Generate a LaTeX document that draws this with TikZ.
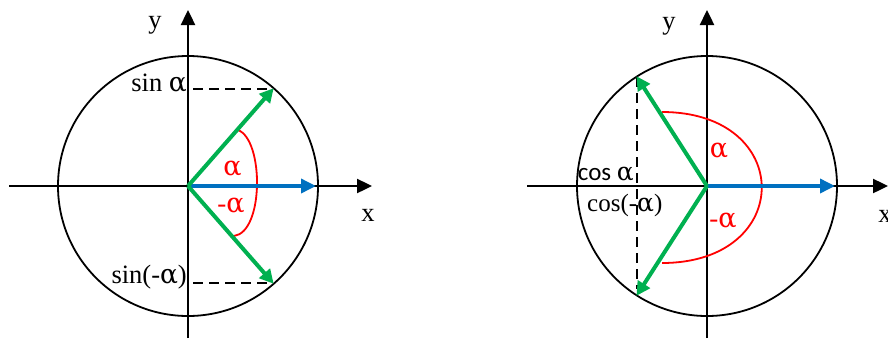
\documentclass[tikz,border=0pt]{standalone}
\usepackage{fontspec}
\setmainfont{Liberation Serif}
\newfontfamily\calib{Carlito}
\newfontfamily\dvs{DejaVu Serif}
\newcommand{\alp}{{\dvs α}}
\usetikzlibrary{arrows.meta}
\definecolor{grn}{HTML}{00B050}
\definecolor{blu}{HTML}{0070C0}
\begin{document}
\begin{tikzpicture}[x=1pt,y=-1pt,
  axisline/.style={line width=2.4pt,-{Triangle[length=15pt,width=14pt]}},
  circ/.style={line width=1.8pt},
  vecg/.style={grn,line width=4pt,-{Triangle[length=14pt,width=14pt]},shorten >=-1pt},
  vecb/.style={blu,line width=3.5pt,-{Triangle[length=15pt,width=14pt]}},
  dashln/.style={line width=1.8pt,dash pattern=on 10pt off 6pt},
  arcred/.style={red,line width=1.8pt},
  lbl/.style={inner sep=0pt,font=\fontsize{26.5}{31}\selectfont},
  slbl/.style={inner sep=0pt,font=\fontsize{25}{30}\selectfont},
  rlbl/.style={inner sep=0pt,text=red,font=\fontsize{27}{32}\selectfont},
  clbl/.style={inner sep=0pt,font=\calib\fontsize{25}{30}\selectfont}]
\useasboundingbox (0,0) rectangle (888,338);
\clip (0,0) rectangle (888,338);
% ---------- left diagram ----------
\coordinate (O1) at (188,186);
\coordinate (xl1) at (9,186);
\coordinate (xr1) at (372,186);
\coordinate (yb1) at (188,338);
\coordinate (yt1) at (188,10);
\coordinate (P1) at (273,89);
\coordinate (Q1) at (273,283);
\coordinate (B1) at (316,186);
\coordinate (d1a) at (193,89);
\coordinate (d1b) at (193,283);
\coordinate (r1s) at (238,130);
\coordinate (r1e) at (234,236);
\draw[circ] (O1) circle[radius=130];
\draw[axisline] (xl1) -- (xr1);
\draw[axisline] (yb1) -- (yt1);
\draw[dashln] (d1a) -- (P1);
\draw[dashln] (d1b) -- (Q1);
\draw[arcred] (r1s) .. controls (264,140) and (264,232) .. (r1e);
\draw[vecb] (O1) -- (B1);
\draw[vecg] (O1) -- (P1);
\draw[vecg] (O1) -- (Q1);
\node[lbl] (ly1) at (155,25) {y};
\node[lbl] (lx1) at (368,215) {x};
\node[lbl,anchor=base east] (s1) at (187,91) {sin \alp};
\node[lbl,anchor=base east] (s2) at (187,283) {sin(-\alp)};
\node[rlbl] (a1) at (232.5,169) {\alp};
\node[rlbl] (a2) at (231,206) {-\alp};
% ---------- right diagram ----------
\coordinate (O2) at (707,186);
\coordinate (xl2) at (527,186);
\coordinate (xr2) at (888,186);
\coordinate (yb2) at (707,338);
\coordinate (yt2) at (707,10);
\coordinate (P2) at (637,77);
\coordinate (Q2) at (637,295);
\coordinate (B2) at (835,186);
\coordinate (d2a) at (637,77);
\coordinate (d2b) at (637,289);
\coordinate (r2s) at (662,112);
\coordinate (r2e) at (662,263);
\draw[circ] (O2) circle[radius=130];
\draw[axisline] (xl2) -- (xr2);
\draw[axisline] (yb2) -- (yt2);
\draw[dashln] (d2a) -- (d2b);
\draw[arcred] (r2s) .. controls (795,112) and (795,263) .. (r2e);
\draw[vecb] (O2) -- (B2);
\draw[vecg] (O2) -- (P2);
\draw[vecg] (O2) -- (Q2);
\node[lbl] (ly2) at (669,26) {y};
\node[lbl] (lx2) at (885,216) {x};
\node[clbl,anchor=base east] (c1) at (634,180) {cos \alp};
\node[slbl,anchor=base west] (c2) at (587,211) {cos(-\alp)};
\node[rlbl] (a3) at (719,151) {\alp};
\node[rlbl] (a4) at (723,221) {-\alp};
\end{tikzpicture}
\end{document}
